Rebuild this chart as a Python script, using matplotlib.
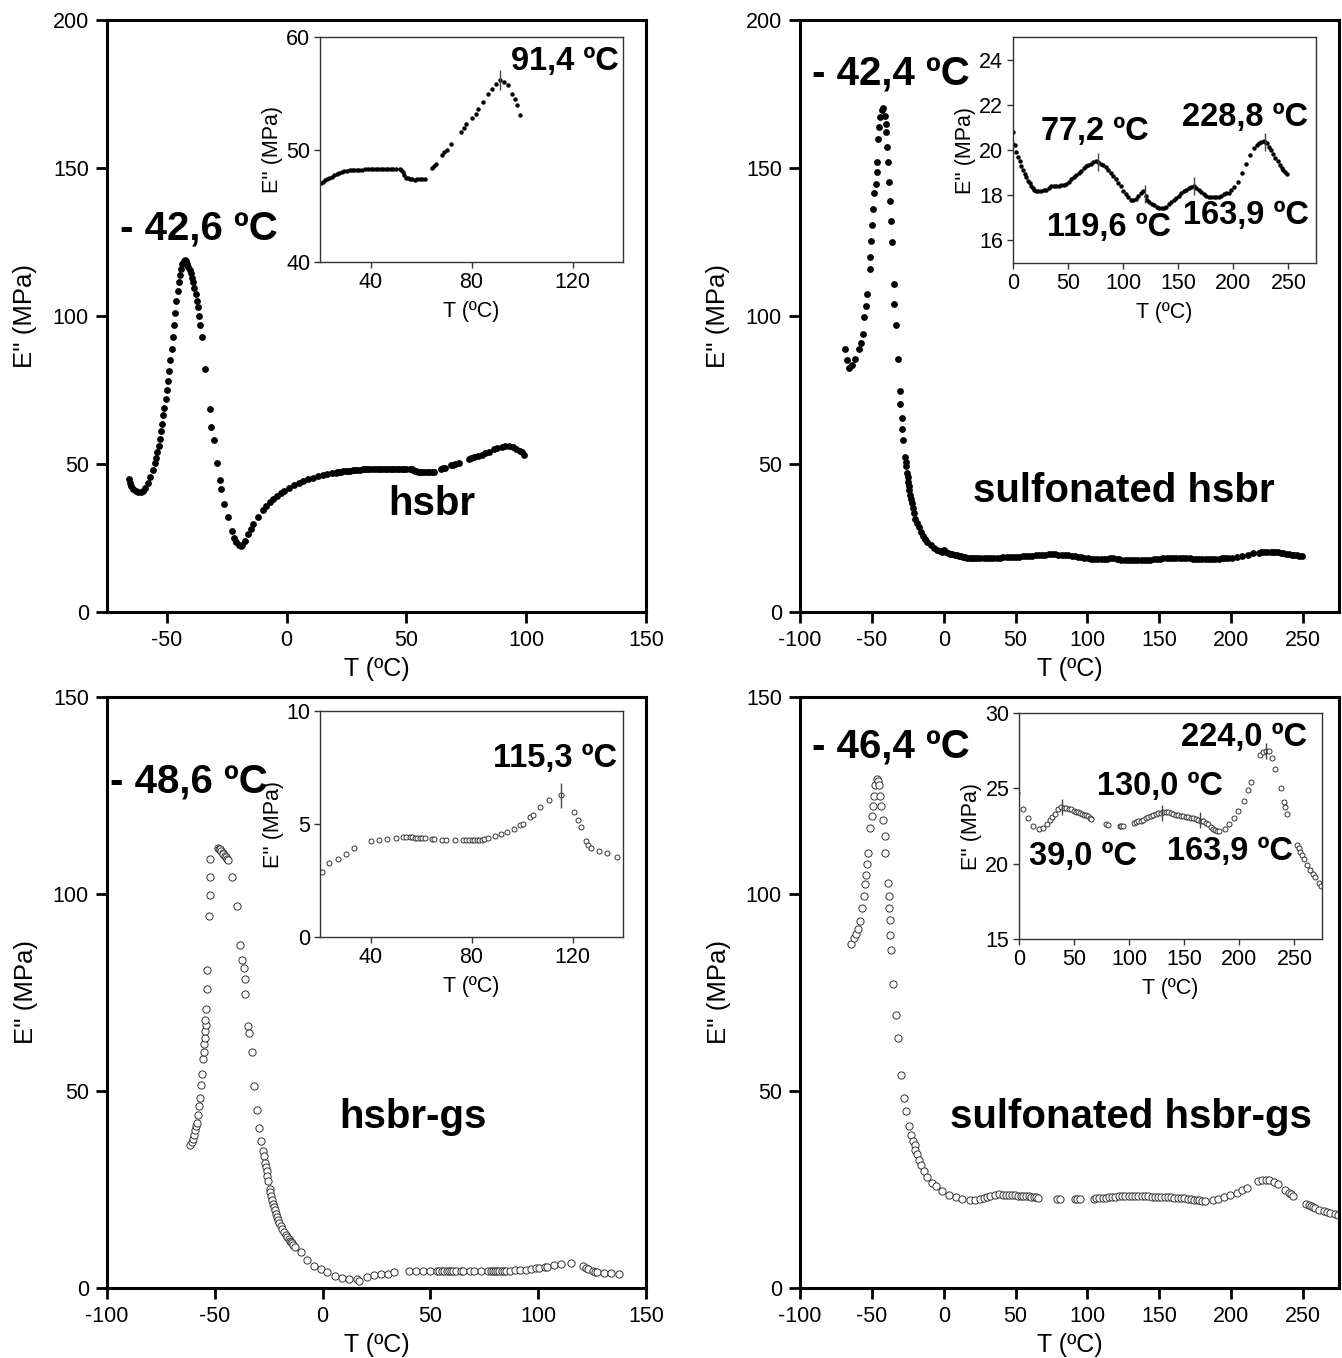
import numpy as np
import matplotlib.pyplot as plt

plt.rcParams['font.family'] = ['Liberation Sans', 'DejaVu Sans']
plt.rcParams['axes.unicode_minus'] = False

# ---- hsbr (top left) ----
hsbr_T = [-66, -65.5, -65, -64, -63, -62, -61, -60, -59, -58,
          -57, -56, -55, -54.5, -54, -53.5, -53, -52.5, -52, -51.5,
          -51, -50.5, -50, -49.5, -49, -48.5, -48, -47.5, -47, -46.5,
          -46, -45.5, -45, -44.5, -44, -43.5, -43, -42.6, -42, -41.5,
          -41, -40.5, -40, -39.5, -39, -38.5, -38, -37.5, -37, -36.5,
          -36, -35.3, -34, -32, -31.5, -30.5, -29.2, -28, -27.5, -26,
          -24.5, -23, -22, -21, -20, -19, -18.5, -17.5, -16, -15,
          -14, -12, -10, -8.5, -7, -5.5, -4, -2.5, -1, 1,
          3, 5, 7, 9, 11, 13, 15, 17, 19, 20.4,
          21.2, 22, 22.8, 23.7, 24.6, 25.5, 26.6, 27.7, 28.6, 29.5,
          30.6, 31.7, 32.6, 33.5, 34.5, 35.6, 36.8, 38, 39, 40,
          41, 42, 43, 44, 45, 46, 47, 48, 49, 50,
          51.5, 52.2, 52.8, 53.4, 53.9, 54.7, 55.5, 56.5, 57.5, 58.5,
          59.5, 60.5, 61.5, 64.5, 65.3, 66.1, 68.5, 69.3, 70.1, 72,
          76, 77, 78, 80, 81.7, 82.6, 84.4, 86.4, 88, 89.9,
          91.3, 92.8, 94.6, 95.9, 97.2, 98.1, 99.2]
hsbr_E = [45, 43.5, 42.5, 41.5, 41, 40.6, 40.4, 41, 42, 43.5,
          45.5, 48, 50.5, 52, 54, 56, 58.5, 61, 63.5, 66.5,
          69, 72, 75, 78, 81.5, 85, 89, 93, 97, 101,
          105, 108.5, 111.5, 114, 116, 117.5, 118.5, 119, 118.5, 117.5,
          116.5, 115.5, 114.5, 113, 111.5, 109.5, 107.5, 105, 103, 100,
          97, 93, 82, 68.5, 62.5, 58, 50.5, 44.5, 41.5, 36.5,
          32, 27.5, 25, 23.5, 22.8, 22.3, 22.5, 24, 26.5, 28.2,
          29.7, 32, 34.5, 35.8, 37, 38.2, 39.3, 40.2, 41, 42,
          42.8, 43.6, 44.3, 44.9, 45.4, 45.9, 46.3, 46.6, 46.9, 47.04,
          47.15, 47.3, 47.4, 47.5, 47.6, 47.7, 47.8, 47.9, 48.0, 48.05,
          48.1, 48.17, 48.2, 48.2, 48.2, 48.2, 48.22, 48.25, 48.25, 48.25,
          48.25, 48.3, 48.3, 48.3, 48.3, 48.3, 48.3, 48.3, 48.3, 48.3,
          48.3, 48.15, 48.0, 47.7, 47.5, 47.45, 47.4, 47.35, 47.3, 47.35,
          47.4, 47.4, 47.4, 48.4, 48.55, 48.7, 49.5, 49.75, 50.0, 50.5,
          51.6, 51.95, 52.3, 52.8, 53.2, 53.6, 54.2, 54.9, 55.4, 55.8,
          56.2, 56.0, 55.7, 54.9, 54.5, 54.0, 53.1]
hsbr_peaks = [91.4]

# ---- sulfonated hsbr (top right) ----
shsbr_T = [-68.6, -67.5, -65.7, -63.6, -61.5, -59.1, -57.6, -56.1, -55.2, -54,
           -53.1, -51.6, -51.3, -50.7, -50.1, -49.2, -48.3, -47.1, -46.5, -46.3,
           -45.7, -45, -44.2, -42.7, -42.1, -41.2, -40.5, -40.1, -39.7, -38.8,
           -38.2, -37.3, -36.7, -35.8, -34.9, -34.3, -33.4, -31.6, -30.7, -30.1,
           -29.2, -28.9, -28, -26.8, -26.5, -26.2, -25.6, -25.2, -24.8, -24.4,
           -23.9, -23.3, -22.7, -22.1, -21.5, -20.6, -19.7, -18.5, -17.3, -16,
           -14.3, -12.8, -11.3, -9, -6.8, -4.6, -2.4, -1,
           0, 1.5, 3, 4.5, 6, 7.5, 9, 10.5, 12, 13.5,
           15, 16.5, 18, 19.5, 21, 23, 25.5, 27.8, 30, 32.3,
           34.6, 36.9, 39.2, 41.5, 43.7, 46, 48.2, 50.5, 52.7, 55,
           57.2, 59.5, 61.7, 64, 66.3, 68.5, 70.8, 73, 75.3, 77.5,
           79.8, 82, 84.3, 86.6, 88.9, 91.1, 93.4, 95.6, 97.9, 100.1,
           102.4, 104.6, 106.9, 109.1, 111.4, 113.7, 116, 118, 120.5, 122,
           123.5, 125.8, 128, 130.3, 132.5, 134.8, 137, 139.3, 141.6, 143.8,
           146.1, 148.3, 150.6, 152.8, 155.1, 157.3, 159.6, 161.9, 164.2, 166.4,
           168.7, 171, 173.2, 175.5, 177.7, 180, 182.2, 184.5, 186.7, 189,
           191.3, 193.5, 195.8, 198, 200.3, 204.2, 207.8, 211.4, 215.4, 219,
           221, 222.9, 225.2, 227.4, 229, 230.4, 232.3, 234.3, 236, 237.9,
           240.2, 242.5, 244, 245.5, 247.3, 249.1]
shsbr_E = [88.8, 85.1, 82.5, 83.3, 85.4, 88.8, 91, 93.9, 99.8, 103.4,
           107.4, 115.9, 120, 125.5, 130.6, 136.2, 141.6, 144.5, 148.5, 151.9,
           159.9, 164, 167.3, 169.5, 170.2, 167.6, 165, 162.1, 157, 151.9,
           145.3, 138.7, 132.1, 125, 110.8, 103.9, 97.1, 85.4, 74.8, 70.4,
           65.7, 61.9, 58, 52.5, 50.8, 49.2, 47, 45.5, 44, 42.5,
           41.1, 39.6, 38.2, 36.7, 35.2, 33.3, 31.5, 30, 28.6, 27.1,
           25.7, 24.5, 23.5, 22.5, 21.7, 21, 20.5, 20.3,
           20.8, 20.2, 19.9, 19.7, 19.5, 19.3, 19.1, 18.95, 18.8, 18.65,
           18.55, 18.4, 18.3, 18.25, 18.2, 18.2, 18.2, 18.22, 18.25, 18.32,
           18.4, 18.4, 18.4, 18.42, 18.45, 18.47, 18.5, 18.6, 18.7, 18.8,
           18.9, 18.97, 19.05, 19.2, 19.3, 19.35, 19.4, 19.47, 19.5, 19.48,
           19.4, 19.35, 19.25, 19.12, 19.0, 18.85, 18.7, 18.55, 18.4, 18.2,
           18.05, 17.92, 17.8, 17.8, 17.85, 17.95, 18.1, 18.2, 17.95, 17.8,
           17.7, 17.62, 17.55, 17.5, 17.45, 17.45, 17.45, 17.5, 17.6, 17.7,
           17.8, 17.88, 17.95, 18.08, 18.2, 18.25, 18.3, 18.37, 18.4, 18.33,
           18.25, 18.15, 18.05, 17.97, 17.9, 17.9, 17.9, 17.9, 17.9, 17.97,
           18.05, 18.08, 18.1, 18.22, 18.35, 18.6, 19.0, 19.4, 19.8, 20.1,
           20.2, 20.3, 20.37, 20.4, 20.35, 20.3, 20.15, 20.0, 19.82, 19.65,
           19.5, 19.35, 19.22, 19.1, 19.02, 18.95]
shsbr_peaks = [77.2, 119.6, 163.9, 228.8]

# ---- hsbr-gs (bottom left) ----
gs_T = [-61.3, -60.7, -60.3, -59.7, -59.3, -58.9, -58.3, -57.9, -57.3, -56.9,
        -56.3, -55.9, -55.4, -55.1, -54.8, -54.6, -54.4, -54.2, -54.4, -54,
        -53.8, -53.6, -52.8, -52.4, -52.4, -52, -48.4, -48, -47.4, -47,
        -46.4, -46, -45.4, -45, -44.5, -43.8, -41.9, -39.9, -38.1, -37.5,
        -36.5, -36.1, -36.1, -34.5, -34.1, -32.9, -31.9, -30.6, -29.6, -28.6,
        -27.8, -27.2, -26.6, -26.3, -26, -25.6, -25.2, -24.6, -24.3, -24,
        -23.5, -23, -22.5, -22, -21.5, -21, -20.5, -20, -19.3, -18.7,
        -17.9, -17.1, -16.4, -15.7, -15.2, -14.7, -14.2, -13.7, -12.7, -10.1,
        -7.1, -4.2, -0.8, 2.2, 5.8, 9.1, 12.1, 16.1, 17.1,
        20.8, 23.7, 27, 30.3, 33.3, 40, 43.3, 46.7, 50, 53,
        54.2, 55.5, 56.5, 57.5, 58.5, 59.5, 60.5, 61.7, 64.2, 65,
        68.3, 70, 73.3, 76.5, 78, 79, 80, 81, 82, 83,
        84, 85, 86.7, 89.2, 91.7, 94.2, 96.7, 99.2, 100.3, 103.3,
        104.2, 107.2, 110.5, 115.3, 120.7, 122, 123.2, 125.2, 126.2, 127.3,
        130.3, 133.7, 137.5]
gs_E = [36.4, 37, 37.8, 38.9, 40, 41.1, 42, 43.9, 46.1, 48.2,
        51.5, 54.3, 58.1, 60, 62, 63.5, 65.2, 66.8, 68, 70.7,
        76, 80.6, 94.5, 99.8, 104.2, 108.9, 111.6, 111.5, 111.3, 111,
        110.5, 110.2, 109.6, 109.3, 109, 108.6, 104.4, 97, 87, 83.3,
        81.1, 78.4, 74.6, 66.6, 64.7, 59.8, 51.3, 45.2, 40.6, 37.3,
        34.8, 33.4, 31.8, 30.7, 29.6, 28.4, 27.2, 25.2, 24.3, 23.4,
        22.4, 21.4, 20.5, 19.7, 18.9, 18.1, 17.2, 16.4, 15.7, 15,
        14.2, 13.5, 13, 12.4, 12, 11.7, 11.3, 10.9, 10.4, 9.1,
        7.1, 5.5, 4.7, 4.1, 3.1, 2.5, 2.2, 2.2, 1.9,
        2.86, 3.28, 3.43, 3.68, 3.94, 4.23, 4.27, 4.34, 4.38, 4.42,
        4.42, 4.42, 4.41, 4.4, 4.4, 4.4, 4.39, 4.38, 4.34, 4.34,
        4.29, 4.29, 4.27, 4.27, 4.27, 4.27, 4.27, 4.28, 4.28, 4.29,
        4.3, 4.32, 4.38, 4.48, 4.57, 4.65, 4.76, 4.95, 5.0, 5.33,
        5.39, 5.77, 6.04, 6.3, 5.52, 5.18, 4.86, 4.25, 4.06, 3.94,
        3.81, 3.71, 3.55]
gs_peaks = [115.3]

# ---- sulfonated hsbr-gs (bottom right) ----
sgs_T = [-64.2, -62.7, -61.2, -59.7, -58.2, -56.7, -55.5, -54.6, -54, -53.1,
         -52.5, -51.3, -50.1, -49.2, -48.6, -47.7, -46.5, -45.7, -44.8, -44.2,
         -43.6, -42.1, -41.2, -40.6, -39.1, -38.2, -38.2, -37.6, -37.3, -36.7,
         -35.2, -33.1, -31.6, -29.8, -27.7, -26.2, -24.2, -22.7, -21.2, -20.3,
         -19.7, -18.8, -17.3, -15.8, -13.7, -11.3, -8.3, -5.3, -1.5,
         3.6, 8.2, 12.7, 18.2, 21.8, 25.5, 27.9, 30.3, 32.4, 35.5,
         38.5, 41, 43.1, 45.5, 47.6, 49.5, 51.5, 53.5, 55.2, 57,
         59.1, 61, 62.8, 64.5, 65.8, 78.8, 81, 91.6, 93, 94.6,
         104.3, 106, 108.2, 110.5, 112.8, 115, 117.3, 119.5, 121.9, 124,
         126.4, 128.8, 131, 133.3, 135.5, 137.8, 140.1, 142.3, 144.6, 146.9,
         149.2, 151.5, 153.7, 156, 158.3, 160.5, 162.8, 165, 167.4, 169.7,
         171.9, 174, 175.9, 177.7, 179.5, 181.9, 187.1, 191, 195.3, 199.2,
         203.8, 207.4, 210.7, 218.9, 221.3, 224.4, 226.5, 229.5, 232.6, 237.7,
         240.1, 241.7, 243.2, 252.3, 253.8, 255.3, 256.8, 258.3, 261.4, 264.4,
         266.8, 268.9, 272, 274.4]
sgs_E = [87.4, 88.8, 89.9, 91, 93.2, 96.5, 99.6, 102.5, 104.7, 107.5,
         110.4, 116.8, 119.8, 122.3, 125, 127.7, 129.1, 128.8, 127.7, 125,
         122.3, 118.8, 114.6, 110.5, 102.9, 99.5, 96.5, 93.4, 89.7, 85.9,
         77.1, 69.3, 63.4, 54.1, 48.2, 45, 41.1, 38.9, 37.3, 36.2,
         35.1, 34, 32.6, 31.3, 29.8, 28.2, 26.6, 25.8, 24.7,
         23.6, 23.05, 22.5, 22.3, 22.35, 22.65, 22.9, 23.1, 23.3, 23.6,
         23.75, 23.72, 23.7, 23.65, 23.6, 23.5, 23.45, 23.4, 23.35, 23.3,
         23.25, 23.2, 23.15, 23.05, 22.95, 22.6, 22.55, 22.5, 22.48, 22.5,
         22.7, 22.75, 22.8, 22.85, 22.9, 23.0, 23.1, 23.18, 23.25, 23.3,
         23.35, 23.38, 23.4, 23.4, 23.4, 23.35, 23.3, 23.25, 23.2, 23.18,
         23.15, 23.12, 23.1, 23.05, 23.0, 22.95, 22.9, 22.85, 22.8, 22.7,
         22.6, 22.45, 22.3, 22.25, 22.2, 22.15, 22.3, 22.6, 23.0, 23.5,
         24.15, 24.9, 25.4, 27.2, 27.4, 27.5, 27.45, 27.0, 26.3, 25.0,
         24.1, 23.75, 23.3, 21.25, 21.05, 20.8, 20.55, 20.3, 19.9, 19.6,
         19.3, 19.1, 18.7, 18.5]
sgs_peaks = [39.0, 130.0, 163.9, 224.0]

W, H = 1342, 1358
fig = plt.figure(figsize=(W / 100, H / 100), dpi=100)


def px_rect(x0, y0, x1, y1):
    return [x0 / W, 1 - y1 / H, (x1 - x0) / W, (y1 - y0) / H]


def style_main(ax, xlim, ylim, xticks, yticks):
    ax.set_xlim(*xlim)
    ax.set_ylim(*ylim)
    ax.set_xticks(xticks)
    ax.set_yticks(yticks)
    for s in ax.spines.values():
        s.set_linewidth(2.2)
    ax.tick_params(direction='out', length=8, width=2, labelsize=15.5, pad=5)
    ax.set_xlabel('T (ºC)', fontsize=18, labelpad=4)
    ax.set_ylabel("E'' (MPa)", fontsize=18.5, labelpad=11)


def style_inset(ax, xlim, ylim, xticks, yticks):
    ax.set_xlim(*xlim)
    ax.set_ylim(*ylim)
    ax.set_xticks(xticks)
    ax.set_yticks(yticks)
    for s in ax.spines.values():
        s.set_linewidth(1)
        s.set_color('#333333')
    ax.tick_params(direction='out', length=4, width=1, labelsize=15.5, pad=3, color='#333333')
    ax.set_xlabel('T (ºC)', fontsize=15.5, labelpad=6)
    ax.set_ylabel("E'' (MPa)", fontsize=15.5, labelpad=2)


def filled(ax, T, E, ms):
    ax.plot(T, E, 'o', color='black', ms=ms, mew=0)


def hollow(ax, T, E, ms):
    ax.plot(T, E, 'o', mfc='white', mec='#333333', ms=ms, mew=0.7)


def peak_marks(ax, T, E, peaks, ms):
    ax.plot(peaks, np.interp(peaks, T, E), '|', color='#444444', ms=ms, mew=1)


bold = dict(fontsize=29, fontweight='bold')
ibold = dict(fontsize=23.5, fontweight='bold', ha='center', va='center')

# top left
ax = fig.add_axes(px_rect(107, 20, 646, 612))
filled(ax, hsbr_T, hsbr_E, 4.9)
style_main(ax, (-75, 150), (0, 200), [-50, 0, 50, 100, 150], [0, 50, 100, 150, 200])
ax.text(-69.6, 129.5, '- 42,6 ºC', va='center', **bold)
ax.text(60.5, 36.5, 'hsbr', ha='center', va='center', **bold)
ins = fig.add_axes(px_rect(320, 37, 623, 262))
filled(ins, hsbr_T, hsbr_E, 3.2)
peak_marks(ins, hsbr_T, hsbr_E, hsbr_peaks, 14)
style_inset(ins, (20, 140), (40, 60), [40, 80, 120], [40, 50, 60])
ins.text(95.5, 57.8, '91,4 ºC', fontsize=23.5, fontweight='bold', ha='left', va='center')

# top right
ax = fig.add_axes(px_rect(800, 20, 1339, 612))
filled(ax, shsbr_T, shsbr_E, 4.9)
style_main(ax, (-100, 275), (0, 200), list(range(-100, 251, 50)), [0, 50, 100, 150, 200])
ax.text(-91.6, 182, '- 42,4 ºC', va='center', **bold)
ax.text(125.5, 41, 'sulfonated hsbr', ha='center', va='center', **bold)
ins = fig.add_axes(px_rect(1013, 37, 1316, 263))
filled(ins, shsbr_T, shsbr_E, 3.2)
peak_marks(ins, shsbr_T, shsbr_E, shsbr_peaks, 13)
style_inset(ins, (0, 275), (15, 25), list(range(0, 251, 50)), [16, 18, 20, 22, 24])
ins.text(74, 20.8, '77,2 ºC', **ibold)
ins.text(211, 21.45, '228,8 ºC', **ibold)
ins.text(87.5, 16.55, '119,6 ºC', **ibold)
ins.text(211, 17.1, '163,9 ºC', **ibold)

# bottom left
ax = fig.add_axes(px_rect(107, 697, 646, 1288))
hollow(ax, gs_T, gs_E, 5.2)
style_main(ax, (-100, 150), (0, 150), list(range(-100, 151, 50)), [0, 50, 100, 150])
ax.text(-98.6, 128.5, '- 48,6 ºC', va='center', **bold)
ax.text(41.7, 43.3, 'hsbr-gs', ha='center', va='center', **bold)
ins = fig.add_axes(px_rect(320, 711, 623, 937))
hollow(ins, gs_T, gs_E, 3.6)
peak_marks(ins, gs_T, gs_E, gs_peaks, 18)
style_inset(ins, (20, 140), (0, 10), [40, 80, 120], [0, 5, 10])
ins.text(113, 7.9, '115,3 ºC', **ibold)

# bottom right
ax = fig.add_axes(px_rect(800, 697, 1339, 1288))
hollow(ax, sgs_T, sgs_E, 5.2)
style_main(ax, (-100, 275), (0, 150), list(range(-100, 251, 50)), [0, 50, 100, 150])
ax.text(-91.6, 137.4, '- 46,4 ºC', va='center', **bold)
ax.text(130.3, 43.3, 'sulfonated hsbr-gs', ha='center', va='center', **bold)
ins = fig.add_axes(px_rect(1019, 713, 1322, 939))
hollow(ins, sgs_T, sgs_E, 3.6)
peak_marks(ins, sgs_T, sgs_E, sgs_peaks, 12)
style_inset(ins, (0, 275), (15, 30), list(range(0, 251, 50)), [15, 20, 25, 30])
ins.text(204.5, 28.4, '224,0 ºC', **ibold)
ins.text(128, 25.1, '130,0 ºC', **ibold)
ins.text(58, 20.5, '39,0 ºC', **ibold)
ins.text(191, 20.8, '163,9 ºC', **ibold)

fig.savefig('out.png', dpi=100)
